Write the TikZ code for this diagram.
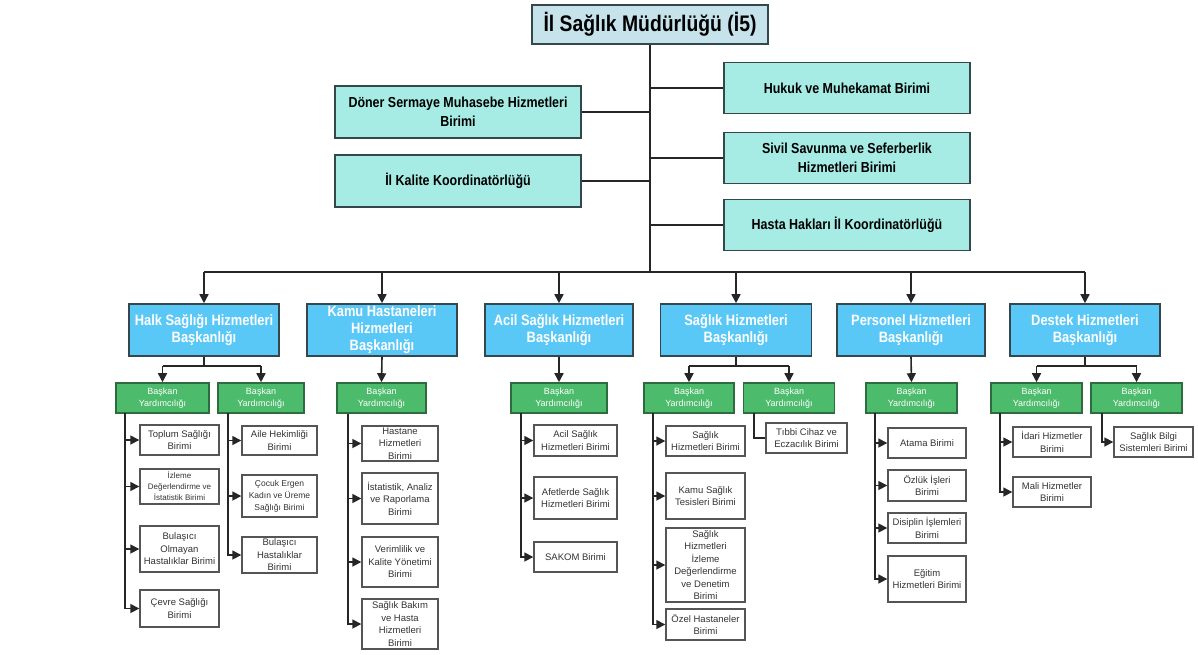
\documentclass[tikz,border=0pt]{standalone}
\usepackage{fontspec}
\setmainfont{Liberation Sans}
\newfontfamily\narrowf[FakeStretch=0.86]{Liberation Sans}
\usetikzlibrary{arrows.meta}
\definecolor{topfill}{HTML}{C6E3EC}
\definecolor{tqfill}{HTML}{A6ECE4}
\definecolor{skyfill}{HTML}{5AC8F6}
\definecolor{grnfill}{HTML}{4DBB6C}
\definecolor{grnline}{HTML}{2E6B3E}
\definecolor{boxline}{HTML}{33474D}
\definecolor{subline}{HTML}{555555}
\definecolor{subtext}{HTML}{333333}
\tikzset{
  topbox/.style={draw=boxline, fill=topfill, line width=1.6pt, inner sep=0pt, align=center,
    font=\narrowf\bfseries\fontsize{22.5}{26}\selectfont},
  tqbox/.style={draw=boxline, fill=tqfill, line width=1.6pt, inner sep=0pt, align=center,
    font=\narrowf\bfseries\fontsize{14.5}{19}\selectfont},
  headbox/.style={draw=boxline, fill=skyfill, line width=1.6pt, inner sep=0pt, align=center, text=white,
    font=\narrowf\bfseries\fontsize{15}{17}\selectfont},
  grnbox/.style={draw=grnline, fill=grnfill, line width=1.6pt, inner sep=0pt, align=center, text=white,
    minimum height=30pt, font=\fontsize{9}{12}\selectfont},
  subbox/.style={draw=subline, fill=white, line width=1.4pt, inner sep=0pt, align=center, text=subtext,
    font=\fontsize{9.5}{12.5}\selectfont},
  conn/.style={draw=black!85, line width=1.6pt},
  arr/.style={conn, -{Triangle[length=9pt,width=9pt]}},
}
\begin{document}
\begin{tikzpicture}[x=1pt,y=-1pt]
\useasboundingbox (0,0) rectangle (1198,654);
% top level
\node[topbox, minimum width=236pt, minimum height=39pt] (top) at (650,24.5) {İl Sağlık Müdürlüğü (İ5)};
\node[tqbox, minimum width=246pt, minimum height=51pt] (hukuk) at (847,88) {Hukuk ve Muhekamat Birimi};
\node[tqbox, minimum width=246pt, minimum height=51pt] (sivil) at (847,158) {Sivil Savunma ve Seferberlik\\Hizmetleri Birimi};
\node[tqbox, minimum width=246pt, minimum height=51pt] (hasta) at (847,225) {Hasta Hakları İl Koordinatörlüğü};
\node[tqbox, minimum width=246pt, minimum height=52pt] (doner) at (458,112) {Döner Sermaye Muhasebe Hizmetleri\\Birimi};
\node[tqbox, minimum width=246pt, minimum height=52pt] (kalite) at (458,181) {İl Kalite Koordinatörlüğü};
\coordinate (bus) at (650,272);
\draw[conn] (top.south) -- (bus);
\foreach \n in {hukuk,sivil,hasta} \draw[conn] (top.south |- \n.west) -- (\n.west);
\foreach \n in {doner,kalite} \draw[conn] (top.south |- \n.east) -- (\n.east);

% presidencies
\node[headbox, minimum width=150pt, minimum height=52pt] (halk) at (204,330) {Halk Sağlığı Hizmetleri\\Başkanlığı};
\node[headbox, minimum width=150pt, minimum height=52pt] (kamu) at (382,330) {Kamu Hastaneleri\\Hizmetleri\\Başkanlığı};
\node[headbox, minimum width=148pt, minimum height=52pt] (acil) at (559,330) {Acil Sağlık Hizmetleri\\Başkanlığı};
\node[headbox, minimum width=151pt, minimum height=52pt] (saglik) at (736,330) {Sağlık Hizmetleri\\Başkanlığı};
\node[headbox, minimum width=148pt, minimum height=52pt] (personel) at (911,330) {Personel Hizmetleri\\Başkanlığı};
\node[headbox, minimum width=150pt, minimum height=52pt] (destek) at (1085,330) {Destek Hizmetleri\\Başkanlığı};
\draw[conn] (halk.north |- bus) -- (destek.north |- bus);
\foreach \n in {halk,kamu,acil,saglik,personel,destek} \draw[arr] (\n.north |- bus) -- (\n.north);

% vice presidencies
\node[grnbox, minimum width=93pt] (hg1) at (162.5,398) {Başkan\\Yardımcılığı};
\node[grnbox, minimum width=86pt] (hg2) at (261,398) {Başkan\\Yardımcılığı};
\node[grnbox, minimum width=89pt] (kg) at (381.5,398) {Başkan\\Yardımcılığı};
\node[grnbox, minimum width=96pt] (ag) at (559,398) {Başkan\\Yardımcılığı};
\node[grnbox, minimum width=90pt] (sg1) at (689,398) {Başkan\\Yardımcılığı};
\node[grnbox, minimum width=91pt] (sg2) at (789,398) {Başkan\\Yardımcılığı};
\node[grnbox, minimum width=91pt] (pg) at (911.5,398) {Başkan\\Yardımcılığı};
\node[grnbox, minimum width=91pt] (dg1) at (1036.5,398) {Başkan\\Yardımcılığı};
\node[grnbox, minimum width=91pt] (dg2) at (1136.5,398) {Başkan\\Yardımcılığı};

\coordinate (hsplit) at (204,366);
\draw[conn] (halk.south) -- (hsplit);
\draw[conn] (hsplit -| hg1.north) -- (hsplit -| hg2.north);
\draw[arr] (hsplit -| hg1.north) -- (hg1.north);
\draw[arr] (hsplit -| hg2.north) -- (hg2.north);
\coordinate (ssplit) at (736,366);
\draw[conn] (saglik.south) -- (ssplit);
\draw[conn] (ssplit -| sg1.north) -- (ssplit -| sg2.north);
\draw[arr] (ssplit -| sg1.north) -- (sg1.north);
\draw[arr] (ssplit -| sg2.north) -- (sg2.north);
\coordinate (dsplit) at (1085,366);
\draw[conn] (destek.south) -- (dsplit);
\draw[conn] (dsplit -| dg1.north) -- (dsplit -| dg2.north);
\draw[arr] (dsplit -| dg1.north) -- (dg1.north);
\draw[arr] (dsplit -| dg2.north) -- (dg2.north);
\draw[arr] (kamu.south) -- (kg.north);
\draw[arr] (acil.south) -- (ag.north);
\draw[arr] (personel.south) -- (pg.north);

% units: Halk 1
\node[subbox, minimum width=79pt, minimum height=30pt] (u11) at (179.5,440) {Toplum Sağlığı\\Birimi};
\node[subbox, minimum width=79pt, minimum height=35pt, font=\fontsize{8}{11}\selectfont] (u12) at (179.5,486.5) {İzleme\\Değerlendirme ve\\İstatistik Birimi};
\node[subbox, minimum width=79pt, minimum height=46pt] (u13) at (179.5,549) {Bulaşıcı\\Olmayan\\Hastalıklar Birimi};
\node[subbox, minimum width=79pt, minimum height=37pt] (u14) at (179.5,608.5) {Çevre Sağlığı\\Birimi};
\coordinate (v1) at (125,413);
\foreach \n in {u11,u12,u13,u14} \draw[arr] (v1) |- (\n.west);
% Halk 2
\node[subbox, minimum width=75pt, minimum height=29pt] (u21) at (279.5,440.5) {Aile Hekimliği\\Birimi};
\node[subbox, minimum width=75pt, minimum height=42pt, font=\fontsize{8.5}{12}\selectfont] (u22) at (279.5,496) {Çocuk Ergen\\Kadın ve Üreme\\Sağlığı Birimi};
\node[subbox, minimum width=75pt, minimum height=36pt] (u23) at (279.5,555) {Bulaşıcı\\Hastalıklar\\Birimi};
\coordinate (v2) at (228,413);
\foreach \n in {u21,u22,u23} \draw[arr] (v2) |- (\n.west);
% Kamu
\node[subbox, minimum width=76pt, minimum height=35pt] (u31) at (400,443.5) {Hastane\\Hizmetleri\\Birimi};
\node[subbox, minimum width=76pt, minimum height=51pt] (u32) at (400,498.5) {İstatistik, Analiz\\ve Raporlama\\Birimi};
\node[subbox, minimum width=76pt, minimum height=50pt] (u33) at (400,562) {Verimlilik ve\\Kalite Yönetimi\\Birimi};
\node[subbox, minimum width=76pt, minimum height=50pt] (u34) at (400,624) {Sağlık Bakım\\ve Hasta\\Hizmetleri\\Birimi};
\coordinate (v3) at (348,414);
\foreach \n in {u31,u32,u33,u34} \draw[arr] (v3) |- (\n.west);
% Acil
\node[subbox, minimum width=83pt, minimum height=31pt] (u41) at (575.5,440.5) {Acil Sağlık\\Hizmetleri Birimi};
\node[subbox, minimum width=83pt, minimum height=42pt] (u42) at (575.5,498) {Afetlerde Sağlık\\Hizmetleri Birimi};
\node[subbox, minimum width=83pt, minimum height=30pt] (u43) at (575.5,557) {SAKOM Birimi};
\coordinate (v4) at (521,413);
\foreach \n in {u41,u42,u43} \draw[arr] (v4) |- (\n.west);
% Saglik 1
\node[subbox, minimum width=79pt, minimum height=30pt] (u51) at (705.5,441) {Sağlık\\Hizmetleri Birimi};
\node[subbox, minimum width=79pt, minimum height=46pt] (u52) at (705.5,496) {Kamu Sağlık\\Tesisleri Birimi};
\node[subbox, minimum width=79pt, minimum height=74pt] (u53) at (705.5,565) {Sağlık\\Hizmetleri\\İzleme\\Değerlendirme\\ve Denetim\\Birimi};
\node[subbox, minimum width=79pt, minimum height=31pt] (u54) at (705.5,624.5) {Özel Hastaneler\\Birimi};
\coordinate (v5) at (653,413);
\foreach \n in {u51,u52,u53,u54} \draw[arr] (v5) |- (\n.west);
% Saglik 2
\node[subbox, minimum width=81pt, minimum height=30pt] (u61) at (806.5,438) {Tıbbi Cihaz ve\\Eczacılık Birimi};
\coordinate (v6) at (754,413);
\draw[conn] (v6) |- (u61.west);
% Personel
\node[subbox, minimum width=78pt, minimum height=30pt] (u71) at (927,443) {Atama Birimi};
\node[subbox, minimum width=78pt, minimum height=31pt] (u72) at (927,485.5) {Özlük İşleri\\Birimi};
\node[subbox, minimum width=78pt, minimum height=30pt] (u73) at (927,528) {Disiplin İşlemleri\\Birimi};
\node[subbox, minimum width=78pt, minimum height=46pt] (u74) at (927,579) {Eğitim\\Hizmetleri Birimi};
\coordinate (v7) at (875,413);
\foreach \n in {u71,u72,u73,u74} \draw[arr] (v7) |- (\n.west);
% Destek 1
\node[subbox, minimum width=78pt, minimum height=30pt] (u81) at (1052,442) {İdari Hizmetler\\Birimi};
\node[subbox, minimum width=78pt, minimum height=30pt] (u82) at (1052,492) {Mali Hizmetler\\Birimi};
\coordinate (v8) at (1000,413);
\foreach \n in {u81,u82} \draw[arr] (v8) |- (\n.west);
% Destek 2
\node[subbox, minimum width=79pt, minimum height=30pt] (u91) at (1153.5,442) {Sağlık Bilgi\\Sistemleri Birimi};
\coordinate (v9) at (1102,413);
\draw[arr] (v9) |- (u91.west);
\end{tikzpicture}
\end{document}
